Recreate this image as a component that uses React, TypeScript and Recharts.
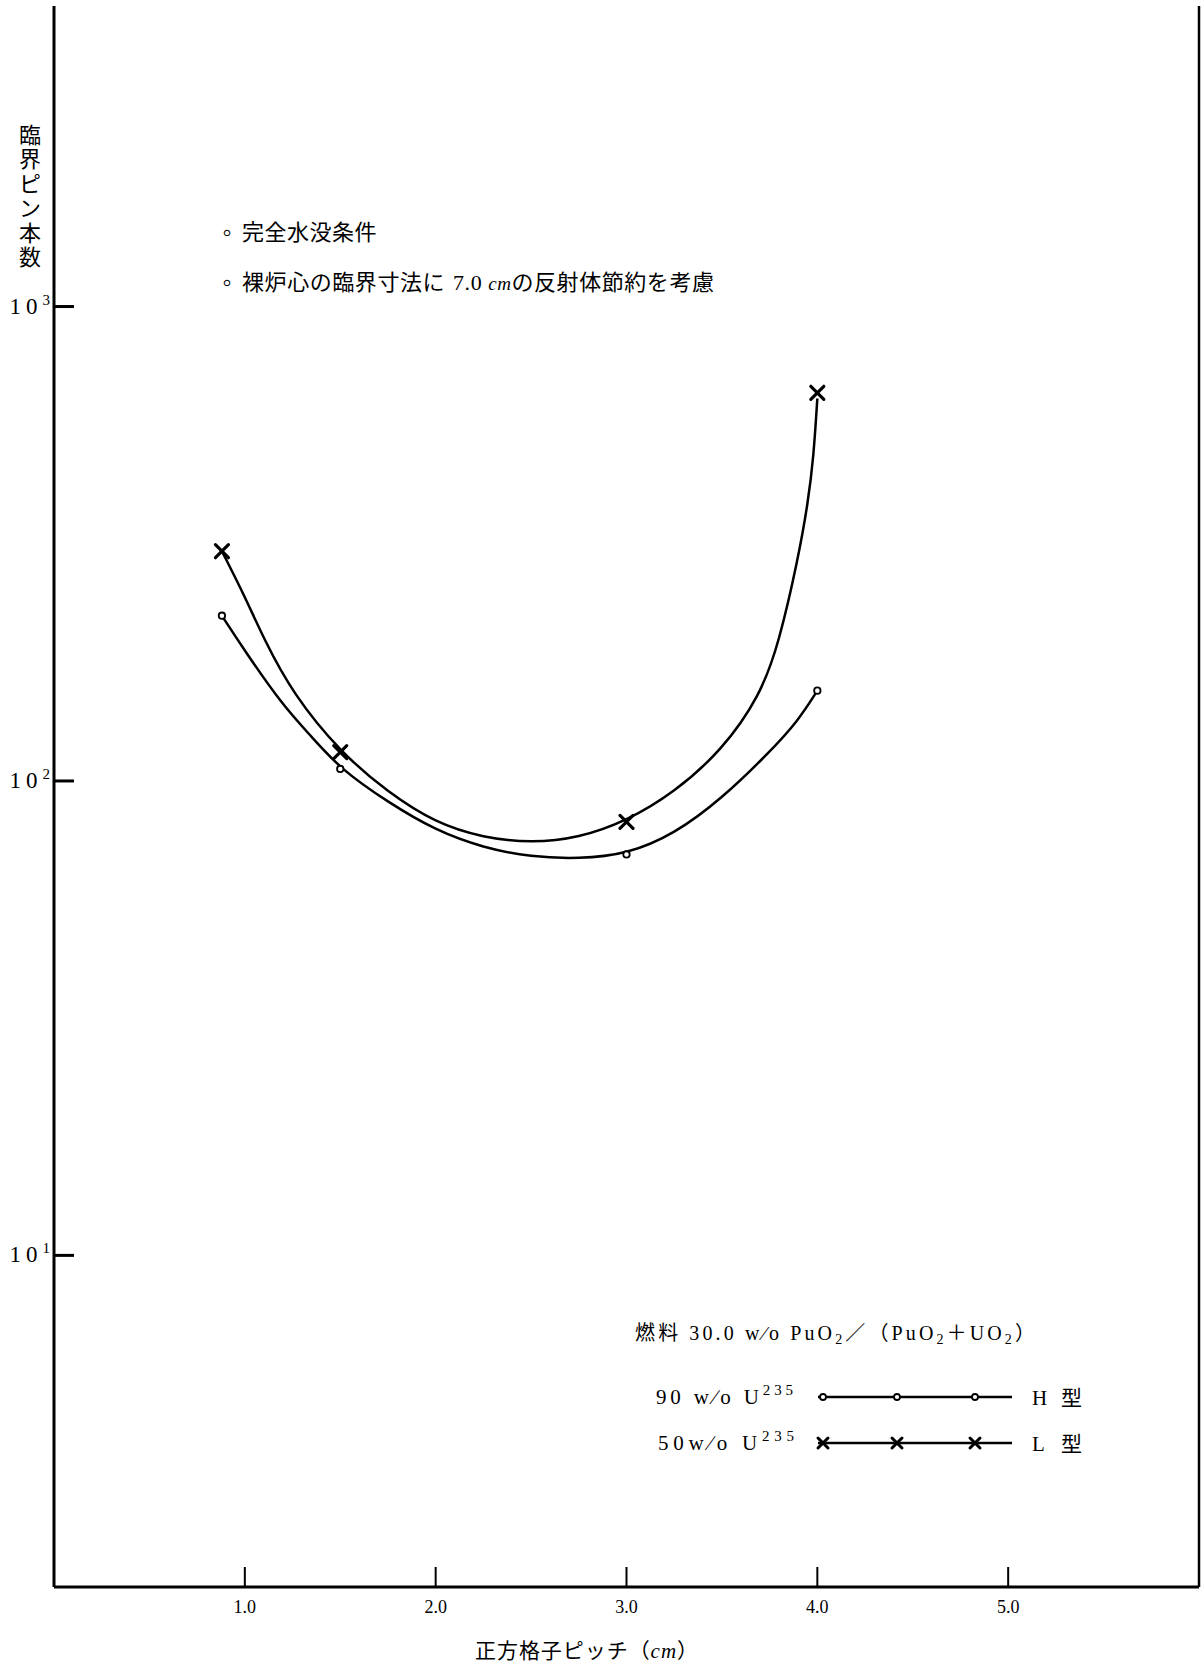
import React from 'react';
import { ComposedChart, Line, XAxis, YAxis, ReferenceLine } from 'recharts';

// ---- axis ticks ----
const pitchTicks = [1, 2, 3, 4, 5];
const pitchTickLabels = ['1.0', '2.0', '3.0', '4.0', '5.0'];
const countTicks = [10, 100, 1000];
const countTickExponents = ['1', '2', '3'];

// ---- measured points (markers) ----
const hPitch = [0.88, 1.5, 3.0, 4.0];
const hCount = [223, 106, 70, 155];
const lPitch = [0.88, 1.5, 3.0, 4.0];
const lCount = [305, 115, 82, 658];

// ---- drawn curves ----
const hCurvePitch = [0.88, 1.0, 1.2, 1.35, 1.5, 1.75, 2.0, 2.25, 2.5, 2.75, 3.0, 3.25, 3.5, 3.75, 3.9, 4.0];
const hCurveCount = [223, 188, 144, 124, 106, 90.2, 78.6, 72.3, 69.1, 68.5, 70, 77.2, 91.8, 115, 134, 155];
const lCurvePitch = [0.88, 1.0, 1.1, 1.25, 1.5, 1.75, 2.0, 2.25, 2.5, 2.75, 3.0, 3.25, 3.5, 3.7, 3.8, 3.9, 3.95, 3.98, 4.0];
const lCurveCount = [305, 245, 199, 153, 115, 94.6, 81.5, 75.9, 74, 75.8, 82.3, 94.5, 116, 151, 196, 295, 384, 479, 640];

const hMarks = hPitch.map((p, i) => ({ pitch: p, n: hCount[i] }));
const lMarks = lPitch.map((p, i) => ({ pitch: p, n: lCount[i] }));
const hCurve = hCurvePitch.map((p, i) => ({ pitch: p, n: hCurveCount[i] }));
const lCurve = lCurvePitch.map((p, i) => ({ pitch: p, n: lCurveCount[i] }));

const SERIF = "'Liberation Serif', 'Noto Sans CJK JP', serif";
const CJK = "'Liberation Serif', 'Noto Sans CJK JP', sans-serif";

const CircleDot = (props: any) => {
  const { cx, cy } = props;
  if (cx == null || cy == null) return null;
  return <circle cx={cx} cy={cy} r={3.2} fill="#fff" stroke="#000" strokeWidth={1.8} />;
};

const CrossDot = (props: any) => {
  const { cx, cy } = props;
  if (cx == null || cy == null) return null;
  const s = 6.5;
  return (
    <g stroke="#000" strokeWidth={3.2} strokeLinecap="round">
      <line x1={cx - s} y1={cy - s} x2={cx + s} y2={cy + s} />
      <line x1={cx - s} y1={cy + s} x2={cx + s} y2={cy - s} />
    </g>
  );
};

const YTick = (props: any) => {
  const { x, y, index } = props;
  return (
    <g>
      <line x1={x} y1={y} x2={x + 20} y2={y} stroke="#000" strokeWidth={3} />
      <text x={x - 4} y={y + 7} textAnchor="end" fontFamily={SERIF} fontSize={23} fill="#000">
        <tspan letterSpacing={5}>10</tspan>
        <tspan fontSize={15} dy={-9}>{countTickExponents[index]}</tspan>
      </text>
    </g>
  );
};

const XTick = (props: any) => {
  const { x, y, index } = props;
  return (
    <g>
      <line x1={x} y1={y} x2={x} y2={y - 20} stroke="#000" strokeWidth={2} />
      <text x={x} y={y + 26} textAnchor="middle" fontFamily={SERIF} fontSize={18} fill="#000">
        {pitchTickLabels[index]}
      </text>
    </g>
  );
};

const yTitleChars = ['臨', '界', 'ピ', 'ン', '本', '数'];

const legendMarkX = [823, 897, 975];

export default function App() {
  return (
    <div style={{ position: 'absolute', left: 0, top: 0, width: 1202, height: 1667, background: '#fff' }}>
      <ComposedChart width={1202} height={1667} margin={{ top: 6, right: 3, bottom: 0, left: 0 }}>
        <XAxis
          type="number"
          dataKey="pitch"
          domain={[0, 6]}
          ticks={pitchTicks}
          height={80}
          allowDataOverflow
          axisLine={{ stroke: '#000', strokeWidth: 3 }}
          tickLine={false}
          tickSize={0}
          tickMargin={0}
          tick={(p: any) => <XTick {...p} />}
        />
        <YAxis
          type="number"
          dataKey="n"
          scale="log"
          domain={[2, 4300]}
          ticks={countTicks}
          width={54}
          allowDataOverflow
          axisLine={{ stroke: '#000', strokeWidth: 3 }}
          tickLine={false}
          tickSize={0}
          tickMargin={0}
          tick={(p: any) => <YTick {...p} />}
        />
        <ReferenceLine x={6} stroke="#000" strokeWidth={2.5} ifOverflow="visible" />
        <Line data={hCurve} dataKey="n" type="basis" stroke="#000" strokeWidth={2.5} dot={false} activeDot={false} isAnimationActive={false} />
        <Line data={lCurve} dataKey="n" type="basis" stroke="#000" strokeWidth={2.5} dot={false} activeDot={false} isAnimationActive={false} />
        <Line data={hMarks} dataKey="n" stroke="none" dot={<CircleDot />} activeDot={false} isAnimationActive={false} />
        <Line data={lMarks} dataKey="n" stroke="none" dot={<CrossDot />} activeDot={false} isAnimationActive={false} />
      </ComposedChart>

      <svg
        width={1202}
        height={1667}
        style={{ position: 'absolute', left: 0, top: 0, pointerEvents: 'none' }}
      >
        {/* Y axis title, stacked vertically */}
        <text fontFamily={CJK} fontSize={22} fill="#000" textAnchor="middle">
          {yTitleChars.map((c, i) => (
            <tspan key={i} x={30} y={143 + i * 24.4}>{c}</tspan>
          ))}
        </text>

        {/* X axis title */}
        <text x={475} y={1658} textLength={223} lengthAdjust="spacing" fontFamily={CJK} fontSize={21} fill="#000">
          正方格子ピッチ（<tspan fontStyle="italic">cm</tspan>）
        </text>

        {/* notes */}
        <text x={227} y={241} textAnchor="middle" fontFamily={SERIF} fontSize={26} fill="#000">◦</text>
        <text x={242} y={240} fontFamily={CJK} fontSize={22} letterSpacing={0.5} fill="#000">完全水没条件</text>
        <text x={227} y={291} textAnchor="middle" fontFamily={SERIF} fontSize={26} fill="#000">◦</text>
        <text x={242} y={290} textLength={472} lengthAdjust="spacing" fontFamily={CJK} fontSize={22} fill="#000">
          裸炉心の臨界寸法に<tspan dx={8}>7.0</tspan>
          <tspan dx={6} fontStyle="italic" fontSize={19}>cm</tspan>
          <tspan>の反射体節約を考慮</tspan>
        </text>

        {/* legend */}
        <text x={635} y={1340} textLength={400} lengthAdjust="spacing" fontFamily={CJK} fontSize={20} fill="#000">
          燃料<tspan dx={8}>30.0 w</tspan>∕o PuO
          <tspan fontSize={14} dy={4}>2</tspan>
          <tspan dy={-4}>／（PuO</tspan>
          <tspan fontSize={14} dy={4}>2</tspan>
          <tspan dy={-4}>＋UO</tspan>
          <tspan fontSize={14} dy={4}>2</tspan>
          <tspan dy={-4}>）</tspan>
        </text>

        <text x={656} y={1404} textLength={137} lengthAdjust="spacing" fontFamily={SERIF} fontSize={21} fill="#000">
          90 w∕o U<tspan fontSize={15} dy={-9}>235</tspan>
        </text>
        <text x={658} y={1450} textLength={136} lengthAdjust="spacing" fontFamily={SERIF} fontSize={21} fill="#000">
          50w∕o U<tspan fontSize={15} dy={-9}>235</tspan>
        </text>

        <line x1={818} y1={1397} x2={1012} y2={1397} stroke="#000" strokeWidth={2.5} />
        {legendMarkX.map((x, i) => (
          <circle key={'c' + i} cx={x} cy={1397} r={3} fill="#fff" stroke="#000" strokeWidth={1.8} />
        ))}
        <line x1={818} y1={1443} x2={1012} y2={1443} stroke="#000" strokeWidth={2.5} />
        {legendMarkX.map((x, i) => (
          <g key={'x' + i} stroke="#000" strokeWidth={3} strokeLinecap="round">
            <line x1={x - 5} y1={1443 - 5} x2={x + 5} y2={1443 + 5} />
            <line x1={x - 5} y1={1443 + 5} x2={x + 5} y2={1443 - 5} />
          </g>
        ))}

        <text x={1032} y={1405} textLength={50} lengthAdjust="spacing" fontFamily={CJK} fontSize={21} fill="#000">H 型</text>
        <text x={1032} y={1451} textLength={50} lengthAdjust="spacing" fontFamily={CJK} fontSize={21} fill="#000">L 型</text>
      </svg>
    </div>
  );
}
